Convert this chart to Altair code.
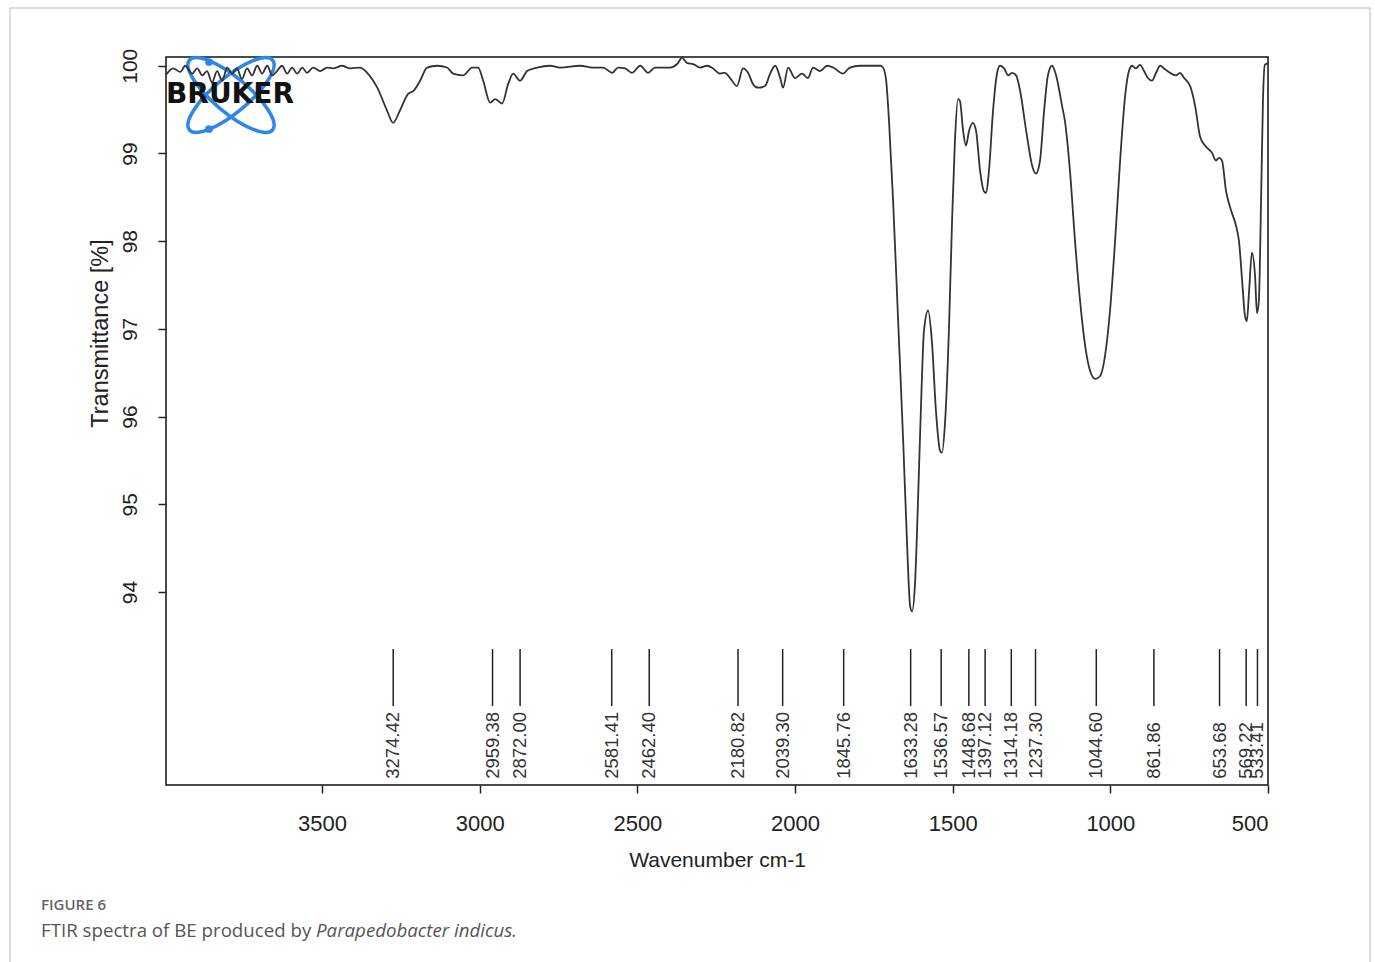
import altair as alt
import pandas as pd

# FTIR spectrum: wavenumber (cm-1) and transmittance (%)
wavenumber = [
    3994, 3972, 3950, 3934, 3912, 3896, 3880, 3865, 3849, 3833, 3817, 3801, 3785, 3770,
    3754, 3738, 3722, 3706, 3690, 3674, 3658, 3643, 3627, 3611, 3595, 3579, 3563, 3548,
    3528, 3506, 3484, 3465, 3437, 3411, 3379, 3357, 3325, 3294, 3275, 3253, 3227, 3211,
    3189, 3167, 3135, 3104, 3084, 3053, 3024, 3005, 2989, 2967, 2951, 2929, 2910, 2894,
    2872, 2850, 2818, 2777, 2745, 2682, 2641, 2609, 2580, 2561, 2539, 2517, 2491, 2466,
    2444, 2396, 2374, 2358, 2342, 2323, 2301, 2279, 2260, 2238, 2222, 2206, 2184, 2165,
    2149, 2133, 2117, 2095, 2079, 2063, 2047, 2038, 2022, 2000, 1978, 1959, 1943, 1921,
    1898, 1879, 1848, 1826, 1794, 1730, 1721, 1711, 1702, 1689, 1673, 1657, 1645, 1635,
    1629, 1619, 1610, 1600, 1591, 1578, 1566, 1553, 1540, 1534, 1524, 1512, 1502, 1493,
    1483, 1477, 1467, 1458, 1448, 1436, 1426, 1413, 1401, 1394, 1385, 1372, 1359, 1350,
    1337, 1324, 1312, 1299, 1286, 1267, 1248, 1236, 1223, 1210, 1198, 1185, 1172, 1153,
    1144, 1128, 1112, 1096, 1080, 1064, 1048, 1033, 1017, 1001, 985, 969, 953, 941,
    931, 919, 906, 893, 881, 868, 855, 842, 830, 811, 792, 779, 766, 747,
    731, 716, 700, 678, 665, 655, 646, 633, 617, 601, 592, 582, 573, 567,
    560, 551, 541, 535, 529, 522, 516, 510, 500,
]
transmittance = [
    99.90, 99.97, 99.93, 100.00, 99.91, 99.97, 99.89, 99.94, 99.81, 99.94, 99.83, 99.98, 99.91, 99.97,
    99.85, 99.97, 99.89, 100.00, 99.91, 100.00, 99.89, 99.94, 100.00, 99.91, 99.98, 99.91, 99.98, 99.92,
    99.98, 99.94, 99.98, 99.97, 100.00, 99.97, 99.98, 99.92, 99.75, 99.49, 99.35, 99.49, 99.68, 99.71,
    99.83, 99.98, 100.00, 99.98, 99.91, 99.89, 99.98, 99.98, 99.83, 99.58, 99.62, 99.57, 99.79, 99.91,
    99.83, 99.94, 99.98, 100.00, 99.98, 100.00, 99.98, 99.98, 99.92, 99.98, 99.97, 99.92, 100.00, 99.92,
    99.98, 99.98, 100.02, 100.09, 100.03, 100.02, 99.98, 100.00, 99.97, 99.91, 99.92, 99.86, 99.77, 99.97,
    99.92, 99.79, 99.75, 99.77, 99.91, 100.00, 99.86, 99.75, 99.98, 99.86, 99.91, 99.86, 99.98, 99.94,
    100.00, 99.98, 99.91, 99.98, 100.00, 100.00, 99.98, 99.83, 99.37, 98.46, 97.09, 95.72, 94.58, 93.84,
    93.78, 94.13, 95.04, 96.18, 96.98, 97.21, 96.86, 96.06, 95.61, 95.59, 95.95, 96.98, 98.23, 99.14,
    99.62, 99.60, 99.26, 99.09, 99.26, 99.35, 99.26, 98.80, 98.57, 98.55, 98.80, 99.49, 99.92, 100.00,
    99.97, 99.89, 99.92, 99.89, 99.71, 99.26, 98.86, 98.77, 98.92, 99.49, 99.89, 100.00, 99.89, 99.54,
    99.37, 98.80, 98.00, 97.32, 96.81, 96.52, 96.43, 96.46, 96.69, 97.21, 98.00, 98.92, 99.66, 99.94,
    100.00, 99.97, 100.01, 99.94, 99.86, 99.83, 99.92, 100.00, 99.97, 99.92, 99.89, 99.92, 99.86, 99.77,
    99.54, 99.20, 99.09, 99.01, 98.92, 98.95, 98.92, 98.57, 98.35, 98.17, 98.00, 97.55, 97.15, 97.09,
    97.43, 97.87, 97.60, 97.18, 97.32, 98.46, 99.60, 100.01, 100.03,
]

# Picked peak positions (cm-1)
peak_positions = [
    3274.42, 2959.38, 2872.00, 2581.41, 2462.40, 2180.82, 2039.30, 1845.76,
    1633.28, 1536.57, 1448.68, 1397.12, 1314.18, 1237.30, 1044.60, 861.86,
    653.68, 569.22, 533.41,
]

x_ticks = [3500, 3000, 2500, 2000, 1500, 1000, 500]
y_ticks = [94, 95, 96, 97, 98, 99, 100]

X_TITLE = "Wavenumber cm-1"
Y_TITLE = "Transmittance [%]"

spectrum = pd.DataFrame({"wn": wavenumber, "T": transmittance})
peaks = pd.DataFrame({"wn": peak_positions, "label": [f"{p:.2f}" for p in peak_positions]})

FONT = "Liberation Sans"
W, H = 1102, 728

x_scale = alt.Scale(domain=[500, 3995], reverse=True, nice=False, zero=False)
y_scale = alt.Scale(domain=[91.8, 100.1], nice=False, zero=False)

x_axis = alt.Axis(
    values=x_ticks, format="d", grid=False, domain=False,
    tickSize=8, tickWidth=1.5, tickColor="#222",
    labelFont=FONT, labelFontSize=22, labelColor="#222", labelPadding=20,
    titleFont=FONT, titleFontSize=21, titleFontWeight="normal", titleColor="#222",
    titleY=75, titleBaseline="middle",
)
y_axis = alt.Axis(
    values=y_ticks, format="d", grid=False, domain=False,
    tickSize=8, tickWidth=1.5, tickColor="#222",
    labelFont=FONT, labelFontSize=21, labelColor="#222", labelPadding=18,
    labelAngle=270, labelAlign="center", labelBaseline="bottom",
    titleFont=FONT, titleFontSize=23.5, titleFontWeight="normal", titleColor="#222",
    titleAngle=270, titleX=-66, titleY=276, titleAlign="center", titleBaseline="middle",
)

one = pd.DataFrame({"k": [0]})

# Card outline around the figure
card = alt.Chart(one).mark_rect(fillOpacity=0, stroke="#d2d2d2", strokeWidth=1.5).encode(
    x=alt.value(-156), x2=alt.value(1204), y=alt.value(-49), y2=alt.value(940)
)

# Instrument logo: two crossed orbits, two dots and the wordmark
orbit_path = "M -1 0 A 1 0.32 0 1 1 1 0 A 1 0.32 0 1 1 -1 0 Z"
orbit_a = alt.Chart(one).mark_point(
    shape=orbit_path, filled=False, stroke="#2f86e6", strokeWidth=3.5, size=11800, opacity=1
).encode(x=alt.value(65), y=alt.value(38), angle=alt.value(40))
orbit_b = alt.Chart(one).mark_point(
    shape=orbit_path, filled=False, stroke="#2f86e6", strokeWidth=3.5, size=11800, opacity=1
).encode(x=alt.value(65), y=alt.value(38), angle=alt.value(320))
dot_top = alt.Chart(one).mark_circle(color="#2f86e6", size=60, opacity=1).encode(
    x=alt.value(43), y=alt.value(5)
)
dot_bottom = alt.Chart(one).mark_circle(color="#2f86e6", size=60, opacity=1).encode(
    x=alt.value(43), y=alt.value(72)
)
wordmark = alt.Chart(one).mark_text(
    text="BRUKER", font="DejaVu Sans", fontWeight="bold", fontSize=28, color="#111",
    align="center", baseline="middle"
).encode(x=alt.value(64), y=alt.value(38))

# Peak markers and their labels
rules = alt.Chart(peaks).mark_rule(color="#222", strokeWidth=1.5).encode(
    x=alt.X("wn:Q", scale=x_scale, axis=x_axis, title=X_TITLE),
    y=alt.datum(93.35, scale=y_scale, axis=y_axis, title=Y_TITLE),
    y2=alt.datum(92.70),
)
labels = alt.Chart(peaks).mark_text(
    angle=270, align="left", baseline="middle", font=FONT, fontSize=18.5, color="#333"
).encode(
    x=alt.X("wn:Q", scale=x_scale, title=X_TITLE),
    y=alt.datum(91.87, scale=y_scale, title=Y_TITLE),
    text="label:N",
)

# Spectrum trace, drawn over the logo
line = alt.Chart(spectrum).mark_line(
    color="#333", strokeWidth=1.8, interpolate="monotone"
).encode(
    x=alt.X("wn:Q", scale=x_scale, title=X_TITLE),
    y=alt.Y("T:Q", scale=y_scale, title=Y_TITLE),
)

caption_head = alt.Chart(one).mark_text(
    text="FIGURE 6", font="Open Sans", fontWeight=600, fontSize=15, color="#666",
    align="left", baseline="middle"
).encode(x=alt.value(-125), y=alt.value(848))
caption_body = alt.Chart(one).mark_text(
    text="FTIR spectra of BE produced by", font="Open Sans", fontSize=18.7, color="#555",
    align="left", baseline="middle"
).encode(x=alt.value(-125), y=alt.value(874))
caption_species = alt.Chart(one).mark_text(
    text="Parapedobacter indicus.", font="Open Sans", fontStyle="italic", fontSize=18.7, color="#555",
    align="left", baseline="middle"
).encode(x=alt.value(150), y=alt.value(874))

chart = alt.layer(
    rules, card, orbit_a, orbit_b, dot_top, dot_bottom, wordmark, labels, line,
    caption_head, caption_body, caption_species,
).properties(
    width=W, height=H,
    autosize=alt.AutoSizeParams(type="none"),
    padding={"left": 166, "top": 57, "right": 107, "bottom": 177},
    background="white",
).configure_view(
    stroke="#111", strokeWidth=1.5
)

chart.save("out.html", embed_options={"renderer": "svg", "actions": False})
